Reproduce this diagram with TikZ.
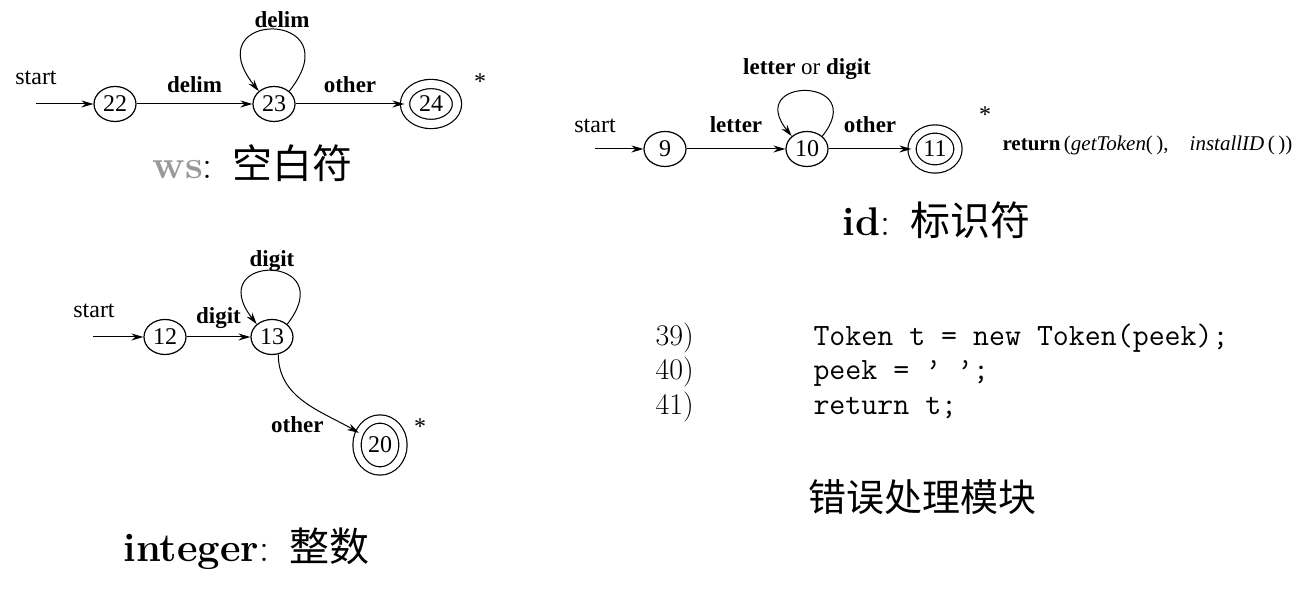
\documentclass[tikz,border=0pt]{standalone}
\usepackage{fontspec}
\usetikzlibrary{
  arrows.meta,
  shapes.geometric,
  positioning
}
\newfontfamily\dfafont{Liberation Serif}
\newfontfamily\cjk{Noto Sans CJK SC}
\definecolor{wsgray}{gray}{0.6}

\begin{document}
\begin{tikzpicture}[x=0.5pt,y=0.5pt,
      state/.style={
         ellipse,
         draw,
         line width=0.6pt,
         minimum width=21pt,
         minimum height=17.5pt,
         inner sep=0pt,
         font=\dfafont\fontsize{12}{12}\selectfont
      },
      accepting/.style={
         state,
         double,
         double distance=3.5pt,
         minimum width=23pt,
         minimum height=20pt
      },
      edgelbl/.style={
         font=\dfafont\bfseries\fontsize{11.5}{12}\selectfont,
         inner sep=0pt,
         text depth=0pt
      },
      startlbl/.style={
         font=\dfafont\fontsize{12}{12}\selectfont,
         inner sep=0pt,
         anchor=base
      },
      starmark/.style={font=\dfafont\fontsize{12}{12}\selectfont,inner sep=0pt},
      retlbl/.style={font=\dfafont\fontsize{10.5}{12}\selectfont,inner sep=0pt,anchor=base west},
      caption/.style={font=\fontsize{20}{24}\selectfont,inner sep=0pt,anchor=base west},
      cjkcap/.style={font=\cjk\fontsize{19}{23}\selectfont,inner sep=0pt,anchor=base west},
      linenum/.style={font=\fontsize{15}{17}\selectfont,inner sep=0pt,anchor=base west},
      codetext/.style={font=\ttfamily\fontsize{15.5}{17}\selectfont,inner sep=0pt,anchor=base west},
      >={Stealth[length=6pt,width=3.5pt]},line width=0.5pt
    ]
  \useasboundingbox (0,0) rectangle (1311,-597);

  % ws
  \coordinate (ws0) at (36,-104);
  \node[startlbl] (wsstart) at (36,-85) {start};
  \node[state] (s22) at (115,-104) {22};
  \node[state] (s23) at (274,-104) {23};
  \node[accepting,minimum width=26pt,minimum height=20pt,double distance=4pt] (s24) at (431,-104) {24};
  \node[starmark] (wsstar) at (480,-82) {*};
  \draw[->] (ws0) -- (s22);
  \draw[->] (s22) -- node[edgelbl,above=5.5pt] {delim} (s23);
  \draw[->] (s23.40) .. controls +(65,82) and +(-65,82) .. node[edgelbl,above=1pt,xshift=4pt] {delim} (s23.140);
  \draw[->] (s23) -- node[edgelbl,above=5.5pt] {other} (s24);
  \node[caption] (wscap) at (152,-179) {\textcolor{wsgray}{\textbf{ws}}:\hspace{.5em}{\cjk 空白符}};

  % id
  \coordinate (id0) at (595,-149);
  \node[startlbl] (idstart) at (595,-133) {start};
  \node[state] (s9) at (665,-149) {9};
  \node[state] (s10) at (807,-149) {10};
  \node[accepting] (s11) at (935,-149) {11};
  \node[starmark] (idstar) at (985,-115) {*};
  \draw[->] (id0) -- (s9);
  \draw[->] (s9) -- node[edgelbl,above=8pt] {letter} (s10);
  \draw[->] (s10.40) .. controls +(48,60) and +(-48,60) .. node[edgelbl,above=8pt] {letter {\mdseries or} digit} (s10.140);
  \draw[->] (s10) -- node[edgelbl,above=8pt] {other} (s11);
  \node[retlbl] (idret) at (1002,-151) {\textbf{return}\,(\textit{getToken}(\,),\hspace{1em}\textit{installID}\,(\,))};
  \node[caption] (idcap) at (842,-236) {\textbf{id}:\hspace{.5em}{\cjk 标识符}};

  % integer
  \coordinate (int0) at (93,-337);
  \node[startlbl] (intstart) at (94,-318) {start};
  \node[state] (s12) at (165,-337) {12};
  \node[state] (s13) at (272,-337) {13};
  \node[accepting,minimum height=26pt] (s20) at (380,-445) {20};
  \node[starmark] (intstar) at (420,-427) {*};
  \draw[->] (int0) -- (s12);
  \draw[->] (s12) -- node[edgelbl,above=6.5pt] {digit} (s13);
  \draw[->] (s13.40) .. controls +(55,71) and +(-55,71) .. node[edgelbl,above=2pt] {digit} (s13.140);
  \draw[->] (s13.-70) to[out=-90,in=150] node[edgelbl,pos=.87,left=10pt] {other} (s20);
  \node[caption] (intcap) at (123,-562) {\textbf{integer}:\hspace{.5em}{\cjk 整数}};

  % code
  \node[linenum] (n39) at (655,-346) {39)};
  \node[linenum] (n40) at (655,-380) {40)};
  \node[linenum] (n41) at (655,-415) {41)};
  \node[codetext] (c39) at (813,-346) {Token t = new Token(peek);};
  \node[codetext] (c40) at (813,-380) {peek = ’ ’;};
  \node[codetext] (c41) at (813,-415) {return t;};
  \node[cjkcap] (errcap) at (808,-512) {错误处理模块};
\end{tikzpicture}
\end{document}
